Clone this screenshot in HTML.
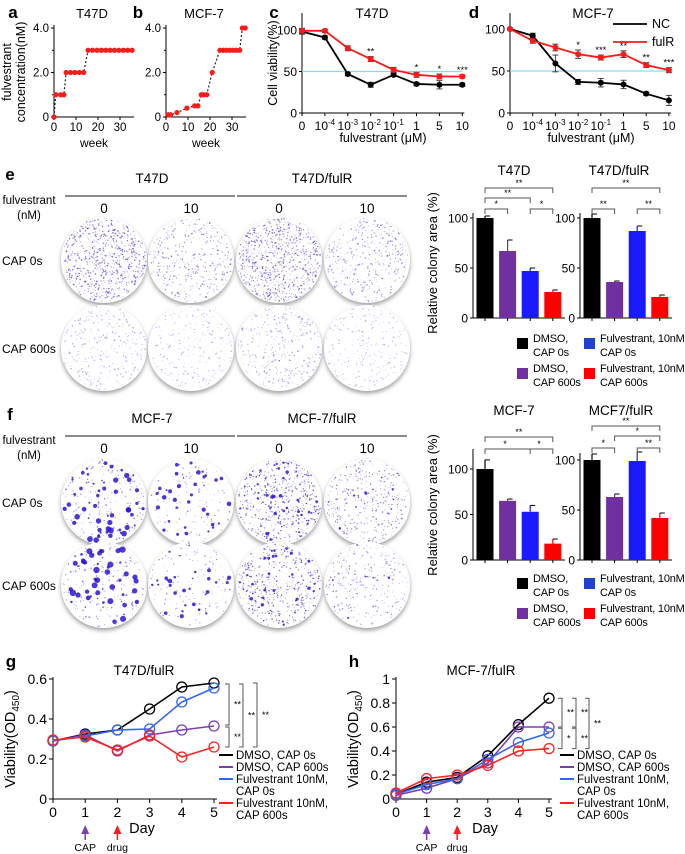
<!DOCTYPE html>
<html><head><meta charset="utf-8"><style>
body{margin:0;background:#fff}
svg{display:block;font-family:"Liberation Sans",Arial,sans-serif}
</style></head><body>
<svg id="fig" width="685" height="854" viewBox="0 0 685 854">
<defs>
<filter id="sh" x="-20%" y="-20%" width="140%" height="150%"><feDropShadow dx="0" dy="2.5" stdDeviation="2" flood-color="#777" flood-opacity="0.7"/></filter>
</defs>
</svg>
<script>
// ---------- panel a / b data ----------
const aWeeks=[0,0.8,3,4.5,5.5,7.5,9.5,11.5,13.5,15.5,17.5,19.5,21.5,23.5,25.5,27.5,29.5,31.5,33.5,35.5];
const aConc=[0,1,1,1,2,2,2,2,2,3,3,3,3,3,3,3,3,3,3,3];
const bWeeks=[1,2,5,9.5,13,14.5,16,17,18.5,21,24.5,26,27.5,29,30.5,32,33.5,34.7,36];
const bConc=[0.1,0.1,0.2,0.4,0.5,0.5,1,1,1,2,3,3,3,3,3,3,3,4,4];
const abYTicks=[0,2,4];
const abYTickLabels=["0","2.0","4.0"];
const abXTicks=[0,10,20,30];
// ---------- panel c / d data ----------
const doseLabels=[["0",""],["10","-4"],["10","-3"],["10","-2"],["10","-1"],["1",""],["5",""],["10",""]];
const cNC=[98,91,47,34,46,35,34,34];
const cNCerr=[3,2,2,3,2,2,5,2];
const cFul=[99,99,78,65,52,46,44,44];
const cFulErr=[3,2,3,3,3,3,3,2];
const cStars=["","","","**","","*","*","***"];
const dNC=[100,92,59,37,36,34,23,15];
const dNCerr=[1,3,10,3,5,5,2,6];
const dFul=[100,86,78,70,66,70,57,51];
const dFulErr=[1,3,4,5,3,4,3,3];
const dStars=["","","","*","***","**","**","***"];
const vTicks=[0,50,100];
// ---------- bar chart data ----------
const barE1=[100,67,47,26];const barE1err=[2,11,3,2];
const barE2=[100,36,87,21];const barE2err=[4,1,5,2];
const barF1=[100,65,53,18];const barF1err=[10,2,7,5];
const barF2=[100,63,99,42];const barF2err=[6,3,9,5];
const barColors=["#000000","#7030a0","#1a1aff","#ff0000"];
// ---------- g / h data ----------
const days=[0,1,2,3,4,5];
const gBlack=[0.29,0.325,0.345,0.45,0.56,0.58];
const gPurple=[0.29,0.32,0.24,0.32,0.345,0.365];
const gBlue=[0.29,0.315,0.345,0.35,0.485,0.555];
const gRed=[0.295,0.31,0.245,0.315,0.21,0.26];
const hBlack=[0.04,0.14,0.18,0.36,0.62,0.84];
const hPurple=[0.03,0.09,0.17,0.30,0.60,0.60];
const hBlue=[0.04,0.12,0.17,0.33,0.47,0.55];
const hRed=[0.05,0.17,0.20,0.28,0.40,0.42];
const gTicks=[0,0.2,0.4,0.6];const gTickLabels=["0","0.2","0.4","0.6"];
const hTicks=[0,0.2,0.4,0.6,0.8,1];const hTickLabels=["0","0.2","0.4","0.6","0.8","1"];

const NS="http://www.w3.org/2000/svg";
const svg=document.getElementById('fig');
function mk(tag,attrs,parent){const e=document.createElementNS(NS,tag);for(const k in attrs)e.setAttribute(k,attrs[k]);(parent||svg).appendChild(e);return e;}
function txt(x,y,s,size,anchor,extra){const t=mk('text',Object.assign({x:x,y:y,'font-size':size,'text-anchor':anchor||'middle',fill:'#000'},extra||{}));t.textContent=s;return t;}
function line(x1,y1,x2,y2,col,w,extra){return mk('line',Object.assign({x1:x1,y1:y1,x2:x2,y2:y2,stroke:col||'#000','stroke-width':w||1},extra||{}));}
function label(x,y,s,name){const t=txt(x,y,s,17,'middle',{'font-weight':'bold'});return t;}

// ===== panel a & b =====
function stepPanel(x0,weeks,conc,title,letter,lx,pname){
  const xs=w=>x0+w*2.2, ys=c=>117-c*22.25;
  label(lx,18,letter,'panel-'+pname+'-label');
  let t=txt(x0+38,18,title,13);
  let ax=line(x0,25,x0,117);
  let bx=line(x0,117,x0+80,117);
  [1,3].forEach(v=>line(x0-2,ys(v),x0,ys(v)));
  abYTicks.forEach((v,i)=>{line(x0-3,ys(v),x0,ys(v));let l=txt(x0-5,ys(v)+4,abYTickLabels[i],11.5,'end');});
  abXTicks.forEach(v=>{line(xs(v),117,xs(v),120);let l=txt(xs(v),131,String(v),11.5);});
  let w=txt(x0+40,147,'week',12);
  const p=mk('polyline',{points:weeks.map((w,i)=>xs(w)+','+ys(conc[i])).join(' '),fill:'none',stroke:'#222','stroke-width':1.2,'stroke-dasharray':'2,2'});
  
  weeks.forEach((w,i)=>{const c=mk('circle',{cx:xs(w),cy:ys(conc[i]),r:2.6,fill:'#ff1a1a'});});
}
stepPanel(54,aWeeks,aConc,'T47D','a',13,'a');
stepPanel(166,bWeeks,bConc,'MCF-7','b',138,'b');
{const g=mk('text',{transform:'rotate(-90)','font-size':12.5,'text-anchor':'middle'});
 const t1=mk('tspan',{x:-72,y:11},g);t1.textContent='fulvestrant';
 const t2=mk('tspan',{x:-72,y:25},g);t2.textContent='concentration(nM)';
 }

// ===== panel c & d =====
function dosePanel(x0,step,y100,NC,NCe,F,Fe,stars,title,letter,lx,pname,legend){
  const y0=113, xs=i=>x0+i*step, ys=v=>y0-v*(y0-y100)/100;
  label(lx,18,letter,'panel-'+pname+'-label');
  let t=txt(x0+(pname=='c'?70:83),18,title,13.5);
  let ax=line(x0,13,x0,y0);
  let bx=line(x0,y0,xs(7)+2,y0);
  vTicks.forEach(v=>{line(x0-3,ys(v),x0,ys(v));let l=txt(x0-5,ys(v)+4.5,String(v),12,'end');});
  doseLabels.forEach((d,i)=>{line(xs(i),y0,xs(i),y0+3);const l=txt(xs(i),y0+17,d[0],12);if(d[1]){const s=mk('tspan',{'font-size':8,dy:-5},l);s.textContent=d[1];}
    });
  let xt=txt(x0+81,142,'fulvestrant (\u03bcM)',12.5);
  const ref=line(x0,ys(50),xs(7),ys(50),'#8fd5ee',1.3);
  [[NC,NCe,'#000','nc'],[F,Fe,'#ff1a1a','fulr']].forEach(([vals,err,col,nm])=>{
    const p=mk('polyline',{points:vals.map((v,i)=>xs(i)+','+ys(v)).join(' '),fill:'none',stroke:col,'stroke-width':1.8});
    
    vals.forEach((v,i)=>{
      line(xs(i),ys(v+err[i]),xs(i),ys(v-err[i]),'#333',0.9);line(xs(i)-3,ys(v+err[i]),xs(i)+3,ys(v+err[i]),'#333',0.9);line(xs(i)-3,ys(v-err[i]),xs(i)+3,ys(v-err[i]),'#333',0.9);
      const c=mk('circle',{cx:xs(i),cy:ys(v),r:3,fill:col});});
  });
  stars.forEach((s,i)=>{if(!s)return;const top=Math.max(F[i]+Fe[i],NC[i]+NCe[i]);const l=txt(xs(i),ys(top)-2,s,9.5);});
  if(legend){
    const l1=line(613,24,647,24,'#000',1.8);
    const t1=txt(652,28,'NC',12.5,'start');
    const l2=line(613,42,647,42,'#ff1a1a',1.8);
    const t2=txt(652,46,'fulR',12.5,'start');
  }
}
dosePanel(302,22.9,30,cNC,cNCerr,cFul,cFulErr,cStars,'T47D','c',274,'c',false);
dosePanel(510,22.7,29,dNC,dNCerr,dFul,dFulErr,dStars,'MCF-7','d',474,'d',true);
{const t=txt(-63,277,'Cell viability(%)',12.5,'middle',{transform:'rotate(-90)'});}

// ===== plates =====
let seed=12345;function rnd(){seed=(seed*16807)%2147483647;return seed/2147483647;}
function plate(cx,cy,nSmall,nBig,bigMax,alpha,name){
  const g=mk('g',{});
  mk('circle',{cx:cx,cy:cy,r:43,fill:'#fff',filter:'url(#sh)'},g);
  for(let i=0;i<nSmall;i++){const a=rnd()*6.283,r=42*Math.sqrt(rnd());mk('circle',{cx:cx+r*Math.cos(a),cy:cy+r*Math.sin(a),r:0.3+rnd()*0.55,fill:'#4a3ae0','fill-opacity':alpha*(0.4+rnd()*0.6)},g);}
  for(let i=0;i<nBig;i++){const a=rnd()*6.283,r=40*Math.sqrt(rnd());mk('circle',{cx:cx+r*Math.cos(a),cy:cy+r*Math.sin(a),r:0.7+rnd()*bigMax,fill:'#2a14d8','fill-opacity':0.85},g);}
}
const plateX=[104,191,279,367];
function platePanel(top,letter,h1,h2,r1,r2,specs,pname){
  label(10,top,letter,'panel-'+pname+'-label');
  let a=txt(152,top+3,h1,13.5);
  let b=txt(322,top+3,h2,13.5);
  line(65,top+16,235,top+16,'#444',1.3);line(237,top+16,407,top+16,'#444',1.3);
  let f=txt(29,top+24,'fulvestrant',11.5);
  let n=txt(29,top+39,'(nM)',11.5);
  ['0','10','0','10'].forEach((s,i)=>{const t=txt(plateX[i],top+33,s,13.5);});
  let c0=txt(2,r1+5,'CAP 0s',12,'start');
  let c6=txt(2,r2+5,'CAP 600s',12,'start');
  specs.forEach((s,i)=>plate(plateX[i%4],i<4?r1:r2,s[0],s[1],s[2],s[3],'colony-plate'));
}
platePanel(180,'e','T47D','T47D/fulR',260,348,[[700,0,0,0.9],[380,0,0,0.7],[800,0,0,0.85],[420,0,0,0.7],[320,0,0,0.5],[260,0,0,0.45],[360,0,0,0.55],[260,0,0,0.4]],'e');
platePanel(420,'f','MCF-7','MCF-7/fulR',502,585,[[200,55,2.3,0.8],[120,35,1.6,0.7],[500,40,1.1,1],[380,10,0.8,0.8],[180,50,2.5,0.8],[120,30,1.6,0.7],[450,30,1,1],[300,5,0.8,0.7]],'f');

// ===== bar charts =====
function barChart(ax,y0,y100,yTop,vals,errs,title,tx,ty,pname){
  const ys=v=>y0-v*(y0-y100)/100, bx=i=>ax+12+i*22.6;
  let t=txt(tx,ty,title,13.5);
  let a=line(ax,yTop,ax,y0);
  let b=line(ax,y0,ax+92,y0);
  vTicks.forEach(v=>{line(ax-3,ys(v),ax,ys(v));let l=txt(ax-5,ys(v)+4.5,String(v),12,'end');});
  vals.forEach((v,i)=>{
    const r=mk('rect',{x:bx(i)-8.5,y:ys(v),width:17,height:y0-ys(v),fill:barColors[i]});
    
    line(bx(i),ys(v),bx(i),ys(v+errs[i]),barColors[i]==='#000000'?'#000':barColors[i],1.2);
    line(bx(i),ys(v+errs[i]),bx(i)+5,ys(v+errs[i]),'#000',1);
    line(bx(i),y0,bx(i),y0+3);
  });
  return bx;
}
function bracket(x1,x2,y,s,mid){
  const g=mk('g',{});
  mk('path',{d:`M${x1},${y+5}V${y}H${x2}V${y+5}`,fill:'none',stroke:'#555','stroke-width':1},g);
  if(mid)mk('line',{x1:mid,y1:y,x2:mid,y2:y+5,stroke:'#555'},g);
  const t=mk('text',{x:(x1+x2)/2,y:y-2,'font-size':9,'text-anchor':'middle'},g);t.textContent=s;
}
let e1=barChart(473,318,218,213,barE1,barE1err,'T47D',514,175,'t47d-bar-chart');
let e2=barChart(580,318,218,213,barE2,barE2err,'T47D/fulR',619,175,'t47d-fulr-bar-chart');
bracket(e1(0),e1(3),188,'**');bracket(e1(0),e1(2),198,'**');bracket(e1(0),e1(1),209,'*');bracket(e1(2),e1(3),209,'*');
bracket(e2(0),e2(3),188,'**');bracket(e2(0),e2(1),209,'**');bracket(e2(2),e2(3),209,'**');
let f1=barChart(473,560,469,449,barF1,barF1err,'MCF-7',514,415,'mcf7-bar-chart');
let f2=barChart(580,560,460,453,barF2,barF2err,'MCF7/fulR',621,415,'mcf7-fulr-bar-chart');
bracket(f1(0),f1(3),437,'**');
{const g=mk('g',{});
 mk('path',{d:`M${f1(0)},454V449H${f1(3)}V454M${f1(2)},449V454`,fill:'none',stroke:'#555'},g);
 const s1=mk('text',{x:505,y:447,'font-size':9,'text-anchor':'middle'},g);s1.textContent='*';
 const s2=mk('text',{x:539,y:447,'font-size':9,'text-anchor':'middle'},g);s2.textContent='*';}
bracket(f2(0),f2(3),426,'**');bracket(f2(1),f2(3),436,'*');bracket(f2(0),f2(1),448,'*');bracket(f2(2),f2(3),448,'**');
[[263],[505]].forEach(([cy])=>{const t=txt(-cy,437,'Relative colony area (%)',13,'middle',{transform:'rotate(-90)'});});
function barLegend(y){
  const items=[[517,y,'#000','DMSO,','CAP 0s'],[584,y,'#2040d0','Fulvestrant, 10nM','CAP 0s'],[517,y+30,'#7030a0','DMSO,','CAP 600s'],[584,y+30,'#ff0000','Fulvestrant, 10nM','CAP 600s']];
  items.forEach(it=>{const g=mk('g',{});
    mk('rect',{x:it[0],y:it[1]-6,width:11,height:11,fill:it[2]},g);
    const t=mk('text',{x:it[0]+16,y:it[1]-2,'font-size':11,'letter-spacing':-0.2},g);t.textContent=it[3];
    const t2=mk('text',{x:it[0]+16,y:it[1]+12,'font-size':11,'letter-spacing':-0.2},g);t2.textContent=it[4];});
}
barLegend(344);barLegend(584);

// ===== panel g / h =====
const seriesCols=['#000','#7b3fb5','#3366ee','#ff2020'];
const legendTexts=[['DMSO, CAP 0s'],['DMSO, CAP 600s'],['Fulvestrant 10nM,','CAP 0s'],['Fulvestrant 10nM,','CAP 600s']];
function growthPanel(x0,step,yMaxPx,yMaxVal,ticks,tickLabels,series,title,tx,letter,lx,pname,lgx){
  const y0=799, xs=d=>x0+d*step, ys=v=>y0-v*(y0-yMaxPx)/yMaxVal;
  label(lx,667,letter,'panel-'+pname+'-label');
  let t=txt(tx,675,title,13.5);
  let a=line(x0,yMaxPx-2,x0,y0);
  let b=line(x0,y0,xs(5)+3,y0);
  ticks.forEach((v,i)=>{line(x0-4,ys(v),x0,ys(v));let l=txt(x0-6,ys(v)+5,tickLabels[i],14,'end');});
  days.forEach(d=>{line(xs(d),y0,xs(d),y0+4);let l=txt(xs(d),y0+18,String(d),14);});
  let dl=txt(x0+89,833,'Day',14.5);
  let yt=mk('text',{transform:'rotate(-90)',x:-739,y:x0-38,'font-size':14.5,'text-anchor':'middle'});yt.textContent='Viability(OD';
  const sub=mk('tspan',{'font-size':10,dy:4},yt);sub.textContent='450';const cl=mk('tspan',{dy:-4},yt);cl.textContent=')';
  
  const names=['dmso-cap0','dmso-cap600','fulv-cap0','fulv-cap600'];
  series.forEach((vals,k)=>{
    const p=mk('polyline',{points:vals.map((v,i)=>xs(days[i])+','+ys(v)).join(' '),fill:'none',stroke:seriesCols[k],'stroke-width':1.6});
    
    vals.forEach((v,i)=>{const c=mk('circle',{cx:xs(days[i]),cy:ys(v),r:5,fill:'none',stroke:seriesCols[k],'stroke-width':1.3});});
  });
  [[1,'#7b3fb5','CAP'],[2,'#ff1a1a','drug']].forEach(([d,col,s])=>{
    const g=mk('g',{});
    mk('path',{d:`M${xs(d)-4},${834}L${xs(d)},${825}L${xs(d)+4},${834}Z`,fill:col},g);
    mk('line',{x1:xs(d),y1:833,x2:xs(d),y2:840,stroke:col,'stroke-width':1.5},g);
    const tt=mk('text',{x:xs(d),y:851,'font-size':10.5,'text-anchor':'middle'},g);tt.textContent=s;});
  const ly=[759,771,783,795,807,819];let row=0;
  legendTexts.forEach((lt,k)=>{const g=mk('g',{});
    mk('line',{x1:lgx,y1:ly[row]-4,x2:lgx+14,y2:ly[row]-4,stroke:seriesCols[k],'stroke-width':2},g);
    lt.forEach(s=>{const tt=mk('text',{x:lgx+17,y:ly[row],'font-size':11.5},g);tt.textContent=s;row++;});});
  return {xs,ys};
}
const G=growthPanel(53,32.2,679,0.6,gTicks,gTickLabels,[gBlack,gPurple,gBlue,gRed],'T47D/fulR',144,'g',11,'g',219);
const H=growthPanel(396,30.6,679,1,hTicks,hTickLabels,[hBlack,hPurple,hBlue,hRed],'MCF-7/fulR',481,'h',354,'h',560);
function vbr(x,y1,y2,s,ty,tx){const g=mk('g',{});
  mk('path',{d:`M${x-4},${y1}H${x}V${y2}H${x-4}`,fill:'none',stroke:'#555'},g);
  const t=mk('text',{x:tx||x+5,y:ty||(y1+y2)/2+3,'font-size':9},g);t.textContent=s;}
vbr(229,G.ys(0.575),G.ys(0.37),'**');vbr(229,G.ys(0.36),G.ys(0.26),'**');vbr(243,G.ys(0.575),G.ys(0.26),'**');vbr(257,G.ys(0.58),G.ys(0.26),'**');
vbr(562,H.ys(0.84),H.ys(0.6),'**');vbr(562,H.ys(0.59),H.ys(0.42),'*');vbr(576,H.ys(0.84),H.ys(0.6),'**');vbr(576,H.ys(0.59),H.ys(0.42),'**');vbr(589,H.ys(0.84),H.ys(0.42),'**');
</script>
</body></html>
